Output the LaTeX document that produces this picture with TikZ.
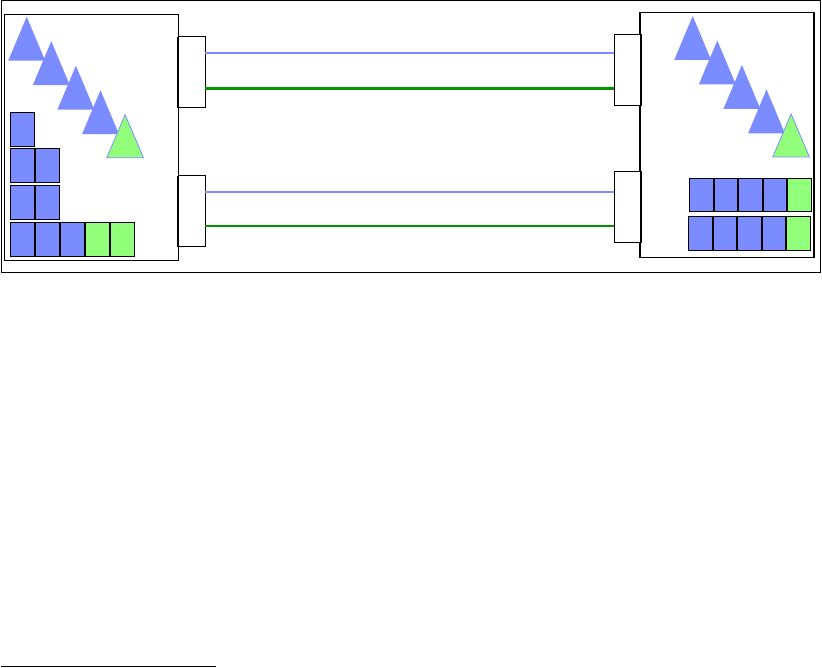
\documentclass[tikz,border=0pt]{standalone}
\usepackage{tikz}
\usetikzlibrary{positioning}

\definecolor{cblue}{RGB}{122,140,255}
\definecolor{cgreen}{RGB}{146,255,122}
\definecolor{lgreen}{RGB}{0,150,0}

\begin{document}
\begin{tikzpicture}[x=1pt,y=-1pt,line width=1pt,
  port/.style={draw,fill=white,minimum width=27pt,inner sep=0pt,outer sep=0pt},
  bline/.style={cblue,line width=2pt},
  gline/.style={lgreen,line width=2.6pt}]
\useasboundingbox (0,0) rectangle (822,668);
% frame and the two hosts
\draw (1.7,0.7) rectangle (820.7,273);
\draw (4,15) rectangle (178,261);
\draw[line width=1.3pt] (640,12.7) rectangle (814,257.7);
% ports
\node[port,minimum height=71pt,anchor=north west] (lp1) at (178,37) {};
\node[port,minimum height=71pt,anchor=north west] (lp2) at (178,176) {};
\node[port,minimum height=71pt,anchor=north east] (rp1) at (641,34.3) {};
\node[port,minimum height=71.4pt,anchor=north east] (rp2) at (641,171.3) {};
\draw[line width=1.6pt] (lp1.north west) -- (lp1.south west) (lp2.north west) -- (lp2.south west);
\draw[line width=1.6pt] (rp1.north east) -- (rp1.south east) (rp2.north east) -- (rp2.south east);
% links
\draw[bline] (lp1.east |- 0,52.7) -- (rp1.west |- 0,52.7);
\draw[gline] (lp1.east |- 0,88.3) -- (rp1.west |- 0,88.3);
\draw[bline,line width=2.4pt] (lp2.east |- 0,192.3) -- (rp2.west |- 0,192.3);
\draw[gline,line width=1.8pt] (lp2.east |- 0,225.7) -- (rp2.west |- 0,225.7);
% triangles
\foreach \x/\y in {26.7/16.7,692.7/16}{
 \foreach \i in {0,...,3}
  \fill[cblue] (\x+\i*24.6,\y+\i*24.5) -- ++(18.5,44) -- ++(-37,0) -- cycle;
 \draw[cblue,fill=cgreen,line width=0.8pt] (\x+4*24.6,\y+4*24.5) -- ++(18.3,43) -- ++(-36.6,0) -- cycle;
}
% queued cells
\foreach \c/\r/\f in {0/0/cblue,0/1/cblue,1/1/cblue,0/2/cblue,1/2/cblue,0/3/cblue,1/3/cblue,2/3/cblue,3/3/cgreen,4/3/cgreen}
 \draw[fill=\f] (10.3+\c*25,112.3+\r*36.7) rectangle ++(24.4,34);
\foreach \r/\x in {0/689.7,1/688.7}
 \foreach \c/\f in {0/cblue,1/cblue,2/cblue,3/cblue,4/cgreen}
  \draw[fill=\f] (\x+\c*24.5,178.7+\r*38.3) rectangle ++(23.5,33.3);
% footnote rule
\draw[line width=0.8pt] (0.5,666.5) -- (215.5,666.5);
\end{tikzpicture}
\end{document}
